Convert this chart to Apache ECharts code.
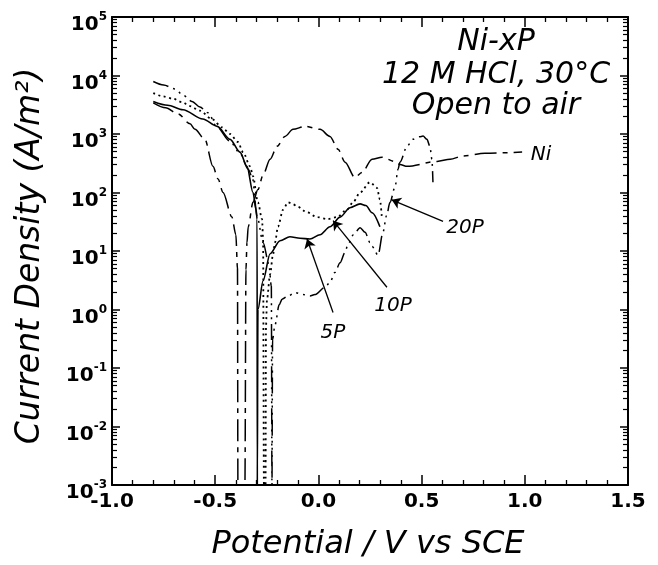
<!DOCTYPE html>
<html><head><meta charset="utf-8">
<script src="https://cdn.jsdelivr.net/npm/echarts@6/dist/echarts.min.js"></script>
<style>html,body{margin:0;padding:0;background:#fff}#c{width:658px;height:565px}</style>
</head><body><div id="c"></div>
<script>
// ---- data ----
const xTickLabels = ['-1.0', '-0.5', '0.0', '0.5', '1.0', '1.5'];
const logDecades = [-3, -2, -1, 0, 1, 2, 3, 4];
const logMultipliers = [2, 3, 4, 5, 6, 7, 8, 9];

// Ni (long dash / short dash)
const niE = [-0.80, -0.74, -0.68, -0.622, -0.598, -0.55, -0.511, -0.486, -0.462, -0.419, -0.40, -0.392, -0.39, -0.356, -0.351, -0.346, -0.34, -0.317, -0.293, -0.268, -0.234, -0.20, -0.162, -0.123, -0.065, 0.008, 0.056, 0.095, 0.129, 0.177, 0.211, 0.26, 0.308, 0.371, 0.395, 0.43, 0.575, 0.638, 0.70, 0.807, 0.987];
const niI = [3400, 2800, 2200, 1500, 1200, 810, 280, 170, 100, 38, 19, 5, 0.001, 0.001, 4.8, 14, 26, 68, 112, 200, 370, 620, 910, 1200, 1350, 1200, 910, 550, 330, 180, 220, 370, 400, 340, 300, 280, 340, 370, 420, 470, 490];

// 5P (solid)
const p5E = [-0.80, -0.73, -0.656, -0.56, -0.49, -0.428, -0.38, -0.346, -0.317, -0.302, -0.297, -0.296, -0.294, -0.293, -0.268, -0.234, -0.186, -0.138, -0.089, -0.041, 0.008, 0.056, 0.105, 0.153, 0.202, 0.23, 0.26, 0.298];
const p5I = [3600, 3100, 2600, 1800, 1350, 810, 490, 280, 100, 51, 35, 0.001, 0.001, 1.0, 3.1, 9, 15, 17.5, 16.5, 16, 19, 26, 38, 55, 64, 60, 45, 26];

// 10P (dotted)
const p10E = [-0.80, -0.753, -0.704, -0.66, -0.622, -0.574, -0.516, -0.467, -0.428, -0.39, -0.365, -0.331, -0.317, -0.293, -0.273, -0.268, -0.264, -0.256, -0.254, -0.249, -0.234, -0.22, -0.21, -0.196, -0.171, -0.147, -0.123, -0.104, -0.055, -0.007, 0.042, 0.09, 0.139, 0.17, 0.202, 0.25, 0.284, 0.298, 0.308];
const p10I = [5000, 4400, 4000, 3500, 3000, 2500, 1800, 1300, 1000, 730, 490, 280, 190, 68, 35, 16, 0.001, 0.001, 0.5, 1.5, 4, 8.7, 14, 26, 51, 68, 63, 58, 46, 38, 35, 38, 51, 70, 100, 150, 120, 76, 35];

// 20P (dash-dot-dot)
const p20E = [-0.80, -0.75, -0.695, -0.656, -0.612, -0.574, -0.535, -0.49, -0.43, -0.38, -0.34, -0.32, -0.297, -0.268, -0.24, -0.228, -0.225, -0.222, -0.21, -0.19, -0.176, -0.152, -0.113, -0.075, -0.041, -0.017, 0.032, 0.056, 0.08, 0.105, 0.129, 0.143, 0.17, 0.202, 0.226, 0.25, 0.26, 0.289, 0.313, 0.33, 0.347, 0.371, 0.386, 0.395, 0.43, 0.458, 0.49, 0.507, 0.526, 0.54, 0.55, 0.555];
const p20I = [7900, 6900, 5900, 4600, 3600, 2900, 2300, 1300, 760, 470, 250, 180, 39, 14, 6, 2.5, 0.001, 0.31, 0.55, 1.2, 1.5, 1.66, 1.95, 1.8, 1.7, 1.8, 2.4, 2.9, 4.3, 6.3, 9.5, 13, 19, 25, 21, 14, 12, 8.5, 21, 40, 68, 123, 250, 330, 620, 810, 900, 920, 810, 620, 370, 150];

// arrows: [from, to] in data coordinates
const arrow5P = [[0.071, 0.89], [-0.055, 16]];
const arrow10P = [[0.332, 2.4], [0.071, 33]];
const arrow20P = [[0.604, 32], [0.355, 75]];

// ---- build ----
const pairs = (E, I) => E.map((e, i) => [e, I[i]]);
const minorLogPos = [];
logDecades.forEach(k => logMultipliers.forEach(m => minorLogPos.push(k + Math.log10(m))));

const FONT = 'DejaVu Sans';
const BLACK = '#000';

const arrowLine = (a) => ({
  silent: true, symbol: ['none', 'arrow'], symbolSize: 9, animation: false,
  label: { show: false },
  lineStyle: { type: 'solid', color: BLACK, width: 1.3 },
  data: [[{ coord: a[0] }, { coord: a[1] }]]
});

const baseX = (pos, labels) => ({
  type: 'value', min: -1, max: 1.5, interval: 0.5, position: pos,
  axisLine: { show: true, onZero: false, lineStyle: { color: BLACK, width: 2 } },
  axisTick: { show: true, inside: true, length: 10, lineStyle: { color: BLACK, width: 1.5 } },
  minorTick: { show: true, splitNumber: 5, length: 5, lineStyle: { color: BLACK, width: 1.3 } },
  splitLine: { show: false }, minorSplitLine: { show: false },
  axisLabel: labels ? {
    show: true, margin: 7, color: BLACK, fontFamily: FONT, fontWeight: 'bold', fontSize: 20,
    formatter: v => { const i = Math.round((v + 1) / 0.5); return xTickLabels[i] !== undefined ? xTickLabels[i] : ''; }
  } : { show: false }
});

const baseLogY = (pos, labels) => ({
  type: 'log', logBase: 10, min: 1e-3, max: 1e5, splitNumber: 8, position: pos,
  axisLine: { show: true, onZero: false, lineStyle: { color: BLACK, width: 2 } },
  axisTick: { show: true, inside: true, length: 8, lineStyle: { color: BLACK, width: 1.5 } },
  minorTick: { show: false },
  splitLine: { show: false },
  axisLabel: labels ? {
    show: true, margin: 5, padding: [12, 0, 0, 0],
    formatter: v => '{b|10}{e|' + Math.round(Math.log10(v)) + '}',
    rich: {
      b: { fontFamily: FONT, fontWeight: 'bold', fontSize: 20, lineHeight: 24, verticalAlign: 'bottom', color: BLACK },
      e: { fontFamily: FONT, fontWeight: 'bold', fontSize: 12, lineHeight: 13, verticalAlign: 'top', color: BLACK }
    }
  } : { show: false }
});

const minorY = (pos) => ({
  type: 'value', min: -3, max: 5, interval: 1, position: pos,
  axisLine: { show: false, onZero: false },
  axisTick: { show: true, inside: true, length: 5, customValues: minorLogPos, lineStyle: { color: BLACK, width: 1.2 } },
  axisLabel: { show: false }, splitLine: { show: false }
});

const lineSeries = (name, E, I, type, width, extra) => Object.assign({
  name, type: 'line', xAxisIndex: 0, yAxisIndex: 0, data: pairs(E, I),
  showSymbol: false, symbol: 'none', smooth: 0.3, smoothMonotone: 'x',
  lineStyle: { color: BLACK, width, type }, z: 3
}, extra || {});

const textEl = (text, x, y, size, rot) => ({
  type: 'text', x, y, rotation: rot || 0, z: 10,
  style: { text, fill: BLACK, font: 'italic ' + size + 'px "' + FONT + '"',
           textAlign: 'center', textVerticalAlign: 'middle', align: 'center', verticalAlign: 'middle' }
});

const chart = echarts.init(document.getElementById('c'), null, { renderer: 'canvas' });
chart.setOption({
  animation: false,
  backgroundColor: '#fff',
  grid: { left: 112, right: 30, top: 17, bottom: 80, containLabel: false, outerBoundsMode: 'none' },
  xAxis: [baseX('bottom', true), baseX('top', false)],
  yAxis: [baseLogY('left', true), baseLogY('right', false), minorY('left'), minorY('right')],
  series: [
    lineSeries('Ni', niE, niI, [22, 6, 5, 6], 1.5),
    lineSeries('5P', p5E, p5I, 'solid', 1.6, { markLine: arrowLine(arrow5P) }),
    lineSeries('10P', p10E, p10I, [2, 3.5], 1.8, { markLine: arrowLine(arrow10P) }),
    lineSeries('20P', p20E, p20I, [16, 5, 2, 5, 2, 5, 2, 5], 1.5, { markLine: arrowLine(arrow20P) })
  ],
  graphic: [
    textEl('Current Density (A/m²)', 30, 256, 33, Math.PI / 2),
    textEl('Potential / V vs SCE', 368, 545, 32),
    textEl('Ni-xP', 496, 42, 30),
    textEl('12 M HCl, 30°C', 496, 75, 30),
    textEl('Open to air', 496, 106, 30),
    textEl('Ni', 541, 155, 20),
    textEl('20P', 465, 228, 20),
    textEl('10P', 393, 306, 20),
    textEl('5P', 333, 333, 20)
  ]
});
</script></body></html>
